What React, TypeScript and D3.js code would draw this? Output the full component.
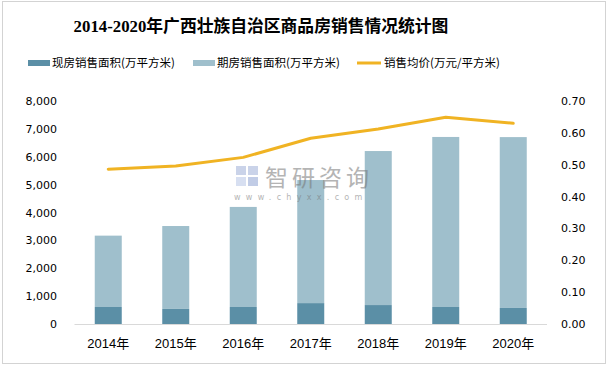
import React, { useRef, useEffect } from 'react';
import * as d3 from 'd3';

const years = ['2014年', '2015年', '2016年', '2017年', '2018年', '2019年', '2020年'];
const spotArea = [610, 540, 610, 750, 680, 610, 575];
const futureArea = [2560, 2975, 3590, 4415, 5525, 6100, 6130];
const avgPrice = [0.486, 0.496, 0.523, 0.583, 0.612, 0.649, 0.63];
const leftTicks = [0, 1000, 2000, 3000, 4000, 5000, 6000, 7000, 8000];
const rightTicks = [0, 0.1, 0.2, 0.3, 0.4, 0.5, 0.6, 0.7];

const App = () => {
  const svgRef = useRef<SVGSVGElement>(null);

  useEffect(() => {
    const svg = d3.select(svgRef.current);
    svg.selectAll('*').remove();

    // Frame
    svg.append('rect')
      .attr('x', 2.5).attr('y', 1.5)
      .attr('width', 603).attr('height', 362)
      .attr('fill', '#fff')
      .attr('stroke', '#a6a6a6')
      .attr('stroke-dasharray', '1,1');

    const top = 101;
    const bottom = 324;

    const x = d3.scaleBand()
      .domain(years)
      .range([74.5, 547])
      .paddingInner(0.6)
      .paddingOuter(0.3);

    const yL = d3.scaleLinear().domain([0, 8000]).range([bottom, top]);
    const yR = d3.scaleLinear().domain([0, 0.7]).range([bottom, top]);

    // Title
    svg.append('text')
      .attr('x', 261).attr('y', 32)
      .attr('text-anchor', 'middle')
      .attr('font-family', '"Liberation Serif", "Noto Sans CJK SC", serif')
      .attr('font-weight', 'bold')
      .attr('font-size', 16.8)
      .attr('fill', '#000')
      .text('2014-2020年广西壮族自治区商品房销售情况统计图');

    // Legend
    const legend = [
      { label: '现房销售面积(万平方米)', color: '#5b8fa6', x: 28, type: 'bar' },
      { label: '期房销售面积(万平方米)', color: '#9fbfcc', x: 193, type: 'bar' },
      { label: '销售均价(万元/平方米)', color: '#f0b323', x: 357, type: 'line' },
    ];
    legend.forEach(l => {
      if (l.type === 'bar') {
        svg.append('rect').attr('x', l.x).attr('y', 60).attr('width', 22).attr('height', 6).attr('fill', l.color);
      } else {
        svg.append('line').attr('x1', l.x).attr('x2', l.x + 24).attr('y1', 63).attr('y2', 63)
          .attr('stroke', l.color).attr('stroke-width', 3);
      }
      svg.append('text')
        .attr('x', l.x + (l.type === 'bar' ? 24 : 27)).attr('y', 67)
        .attr('font-family', '"Noto Sans CJK SC", sans-serif')
        .attr('font-size', 11.5)
        .attr('fill', '#000')
        .text(l.label);
    });

    // Bars
    const g = svg.append('g');
    g.selectAll('rect.spot')
      .data(years)
      .join('rect')
      .attr('class', 'spot')
      .attr('x', d => x(d))
      .attr('width', x.bandwidth())
      .attr('y', (d, i) => yL(spotArea[i]))
      .attr('height', (d, i) => bottom - yL(spotArea[i]))
      .attr('fill', '#5b8fa6');

    g.selectAll('rect.future')
      .data(years)
      .join('rect')
      .attr('class', 'future')
      .attr('x', d => x(d))
      .attr('width', x.bandwidth())
      .attr('y', (d, i) => yL(spotArea[i] + futureArea[i]))
      .attr('height', (d, i) => yL(spotArea[i]) - yL(spotArea[i] + futureArea[i]))
      .attr('fill', '#9fbfcc');

    // Baseline
    svg.append('line')
      .attr('x1', 74.5).attr('x2', 547)
      .attr('y1', bottom + 0.5).attr('y2', bottom + 0.5)
      .attr('stroke', '#d9d9d9');

    // Watermark (semi-transparent, over the bars)
    const wm = svg.append('g').attr('opacity', 0.55);
    wm.append('rect').attr('x', 236).attr('y', 166).attr('width', 10).attr('height', 9).attr('fill', '#9fb0d8');
    wm.append('rect').attr('x', 248).attr('y', 166).attr('width', 10).attr('height', 9).attr('fill', '#9fb0d8');
    wm.append('rect').attr('x', 236).attr('y', 177).attr('width', 10).attr('height', 9).attr('fill', '#b8c6e6');
    wm.append('rect').attr('x', 248).attr('y', 177).attr('width', 10).attr('height', 9).attr('fill', '#8fa3d2');
    wm.append('text')
      .attr('x', 265).attr('y', 186)
      .attr('font-family', '"Noto Sans CJK SC", sans-serif')
      .attr('font-size', 23)
      .attr('letter-spacing', 4)
      .attr('fill', '#777')
      .text('智研咨询');
    wm.append('text')
      .attr('x', 234).attr('y', 200)
      .attr('font-family', '"DejaVu Sans", sans-serif')
      .attr('font-size', 8)
      .attr('letter-spacing', 5.3)
      .attr('fill', '#777')
      .text('www.chyxx.com');

    // Line
    const line = d3.line<number>()
      .x((d, i) => x(years[i]) + x.bandwidth() / 2)
      .y(d => yR(d));
    svg.append('path')
      .datum(avgPrice)
      .attr('d', line)
      .attr('fill', 'none')
      .attr('stroke', '#f0b323')
      .attr('stroke-width', 3)
      .attr('stroke-linejoin', 'round')
      .attr('stroke-linecap', 'round');

    // Left axis labels
    svg.append('g').selectAll('text')
      .data(leftTicks)
      .join('text')
      .attr('x', 57)
      .attr('y', d => yL(d) + 4)
      .attr('text-anchor', 'end')
      .attr('font-family', '"DejaVu Sans", sans-serif')
      .attr('font-size', 11)
      .attr('fill', '#000')
      .text(d => d3.format(',')(d));

    // Right axis labels
    svg.append('g').selectAll('text')
      .data(rightTicks)
      .join('text')
      .attr('x', 561)
      .attr('y', d => yR(d) + 4)
      .attr('font-family', '"DejaVu Sans", sans-serif')
      .attr('font-size', 11)
      .attr('fill', '#000')
      .text(d => d3.format('.2f')(d));

    // X labels
    svg.append('g').selectAll('text')
      .data(years)
      .join('text')
      .attr('x', d => x(d) + x.bandwidth() / 2)
      .attr('y', 348)
      .attr('text-anchor', 'middle')
      .attr('font-family', '"Liberation Sans", "Noto Sans CJK SC", sans-serif')
      .attr('font-size', 13)
      .attr('fill', '#000')
      .text(d => d);
  }, []);

  return (
    <>
      <style>{'body{margin:0}'}</style>
      <svg ref={svgRef} width={609} height={369} style={{ display: 'block' }} />
    </>
  );
};

export default App;
